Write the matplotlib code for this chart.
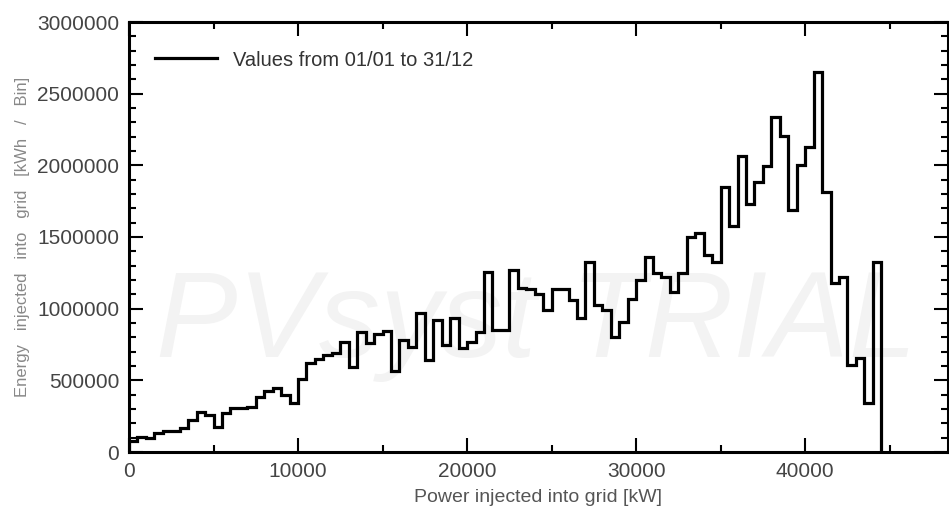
import numpy as np
import matplotlib
matplotlib.use("Agg")
import matplotlib.pyplot as plt
from matplotlib.ticker import MultipleLocator, FuncFormatter

plt.rcParams["font.family"] = ["Liberation Sans", "DejaVu Sans"]

# histogram of injected energy per 500 kW power bin
bin_width = 500  # kW
energy_per_bin = [
    80000, 107000, 95000, 130000, 149000, 149000, 165000, 223000, 281000, 258000,
    177000, 270000, 305000, 305000, 316000, 386000, 428000, 444000, 398000, 340000,
    507000, 623000, 646000, 676000, 688000, 769000, 595000, 839000, 758000, 823000,
    846000, 567000, 781000, 730000, 967000, 642000, 920000, 746000, 932000, 723000,
    769000, 839000, 1257000, 851000, 851000, 1269000, 1142000, 1135000, 1100000, 990000,
    1135000, 1135000, 1060000, 932000, 1327000, 1025000, 990000, 804000, 909000, 1065000,
    1200000, 1362000, 1246000, 1223000, 1118000, 1246000, 1501000, 1525000, 1374000, 1327000,
    1850000, 1575000, 2064000, 1730000, 1885000, 1995000, 2339000, 2204000, 1688000, 2002000,
    2129000, 2652000, 1815000, 1176000, 1223000, 607000, 653000, 340000, 1327000,
]
series_label = "Values from 01/01 to 31/12"
x_label = "Power injected into grid [kW]"
y_label = "Energy   injected   into   grid   [kWh   /   Bin]"

edges = np.arange(len(energy_per_bin) + 1) * bin_width

fig = plt.figure(figsize=(9.49, 5.16), dpi=100)
ax = fig.add_axes([129 / 949, 64 / 516, 819 / 949, 430 / 516])

# faint trial watermark behind the plot
fig.text(0.565, 0.37, "PVsyst TRIAL", fontsize=88, color="#f3f3f3",
         style="italic", ha="center", va="center", zorder=-1)
ax.set_facecolor("none")

ax.stairs(energy_per_bin, edges, baseline=0, color="black", linewidth=2.3,
          label=series_label)

ax.set_xlim(0, 48450)
ax.set_ylim(0, 3000000)

ax.xaxis.set_major_locator(MultipleLocator(10000))
ax.xaxis.set_minor_locator(MultipleLocator(5000))
ax.yaxis.set_major_locator(MultipleLocator(500000))
ax.yaxis.set_minor_locator(MultipleLocator(100000))
fmt = FuncFormatter(lambda v, pos: f"{int(round(v))}")
ax.xaxis.set_major_formatter(fmt)
ax.yaxis.set_major_formatter(fmt)

ax.tick_params(which="both", direction="in", top=True, right=True, width=1.5,
               colors="black", labelcolor="#444444", labelsize=15)
ax.tick_params(which="major", length=10, pad=7)
ax.tick_params(which="minor", length=5)

for sp in ax.spines.values():
    sp.set_linewidth(2.2)

ax.set_xlabel(x_label, fontsize=14, color="#555555", labelpad=6)
ax.set_ylabel(y_label, fontsize=12, color="#888888", labelpad=5)

ax.legend(loc="center left", bbox_to_anchor=(26 / 819, 1 - 38 / 430), frameon=False,
          fontsize=14.5, handlelength=3.1, handletextpad=0.75, borderpad=0,
          borderaxespad=0, labelcolor="#333333")

fig.savefig("out.png", dpi=100, facecolor="white")
